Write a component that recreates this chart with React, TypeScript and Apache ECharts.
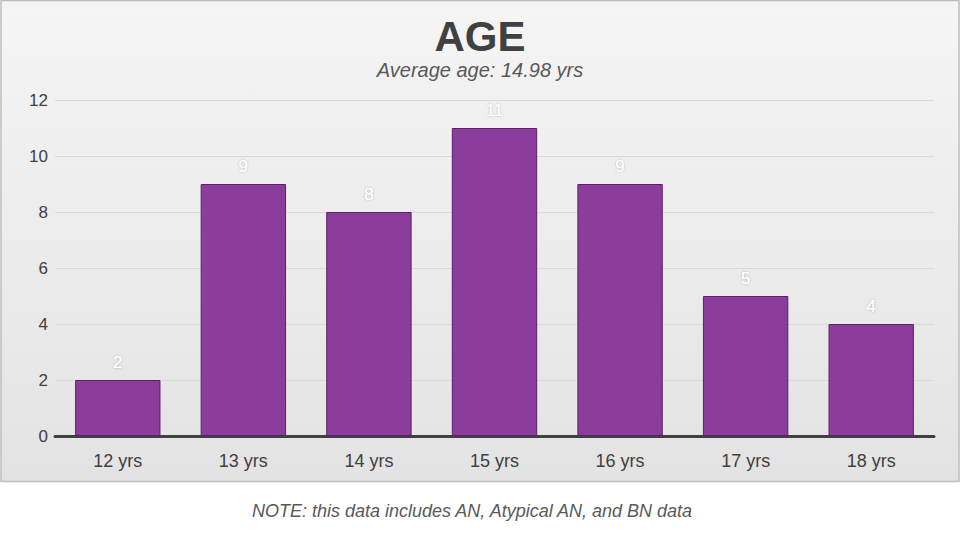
import React, { useEffect, useRef } from "react";
import * as echarts from "echarts";

const categories = ["12 yrs", "13 yrs", "14 yrs", "15 yrs", "16 yrs", "17 yrs", "18 yrs"];
const counts = [2, 9, 8, 11, 9, 5, 4];
const titleText = "AGE";
const subtitleText = "Average age: 14.98 yrs";
const noteText = "NOTE: this data includes AN, Atypical AN, and BN data";

export default function App() {
  const ref = useRef<HTMLDivElement>(null);
  useEffect(() => {
    if (!ref.current) return;
    const chart = echarts.init(ref.current, undefined, { renderer: "svg" });
    chart.setOption({
      animation: false,
      backgroundColor: "#ffffff",
      textStyle: { fontFamily: "Liberation Sans, Arial, sans-serif" },
      graphic: [
        {
          type: "rect",
          z: -10,
          silent: true,
          shape: { x: 1, y: 0.5, width: 958, height: 481 },
          style: {
            fill: new echarts.graphic.LinearGradient(0, 0, 0, 1, [
              { offset: 0, color: "#f5f5f5" },
              { offset: 1, color: "#e3e3e3" },
            ]),
            stroke: "#bdbdbd",
            lineWidth: 1.5,
          },
        },
        {
          type: "text",
          left: "center",
          top: 15,
          style: {
            text: titleText,
            fill: "#404040",
            font: "bold 42px 'Liberation Sans', Arial, sans-serif",
            textAlign: "center",
          },
        },
        {
          type: "text",
          x: 480,
          y: 60,
          style: {
            text: subtitleText,
            fill: "#595959",
            font: "italic 20px 'Liberation Sans', Arial, sans-serif",
            textAlign: "center",
          },
        },
        {
          type: "text",
          x: 472,
          y: 502,
          style: {
            text: noteText,
            fill: "#595959",
            font: "italic 18px 'Liberation Sans', Arial, sans-serif",
            textAlign: "center",
          },
        },
      ],
      grid: { left: 55, right: 26, top: 100, bottom: 104, containLabel: false },
      xAxis: {
        type: "category",
        data: categories,
        axisLine: { show: true, lineStyle: { color: "#404040", width: 3 } },
        axisTick: { show: false },
        axisLabel: { color: "#404040", fontSize: 18, margin: 16 },
      },
      yAxis: {
        type: "value",
        min: 0,
        max: 12,
        interval: 2,
        axisLine: { show: false },
        axisTick: { show: false },
        axisLabel: { color: "#404040", fontSize: 17, margin: 7 },
        splitLine: { lineStyle: { color: "#d9d9d9", width: 1 } },
      },
      series: [
        {
          type: "bar",
          data: counts,
          barWidth: "68%",
          itemStyle: { color: "#8b3d9b", borderColor: "#5a2266", borderWidth: 1 },
          label: {
            show: true,
            position: "top",
            distance: 9,
            color: "#ffffff",
            fontSize: 17,
            textShadowColor: "rgba(0,0,0,0.25)",
            textShadowBlur: 2,
          },
        },
      ],
    });
    return () => chart.dispose();
  }, []);
  return (
    <div
      ref={ref}
      style={{ position: "absolute", left: 0, top: 0, width: 960, height: 540 }}
    />
  );
}
